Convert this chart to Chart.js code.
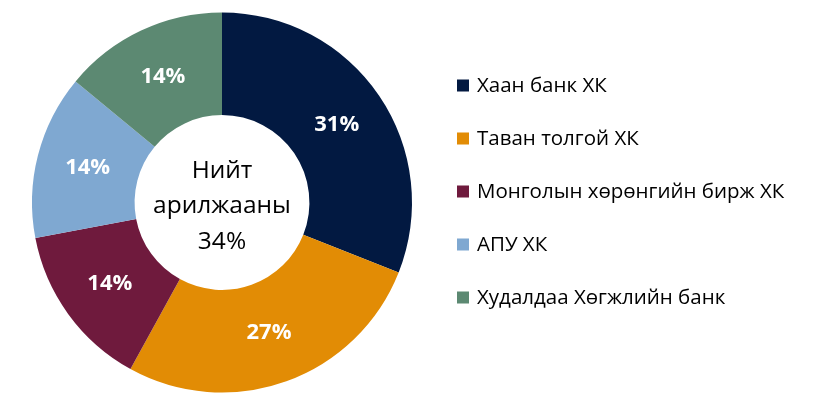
<!DOCTYPE html>
<html>
<head>
  <meta charset="UTF-8">
  <style>
    body { margin: 0; background: #fff; }
    .wrap { width: 825px; height: 405px; position: relative; }
  </style>
</head>
<body>
  <div class="wrap"><canvas id="myChart" width="825" height="405"></canvas></div>
  <script src="https://cdn.jsdelivr.net/npm/chart.js"></script>
  <script>
    // data
    var names = ["Хаан банк ХК", "Таван толгой ХК", "Монголын хөрөнгийн бирж ХК", "АПУ ХК", "Худалдаа Хөгжлийн банк"];
    var shares = [31, 27, 14, 14, 14];
    var colors = ["#021941", "#E28C05", "#6F1A3D", "#7FA8D1", "#5C8972"];
    var center_lines = ["Нийт", "арилжааны", "34%"];

    var FONT = "'Open Sans', 'Noto Sans', 'DejaVu Sans', sans-serif";

    // percent labels inside slices + centre text + legend
    var drawExtras = {
      id: 'drawExtras',
      afterDraw: function (chart) {
        var ctx = chart.ctx;
        var meta = chart.getDatasetMeta(0);
        ctx.save();
        ctx.fillStyle = '#fff';
        ctx.font = 'bold 22px ' + FONT;
        ctx.textAlign = 'center';
        ctx.textBaseline = 'middle';
        meta.data.forEach(function (arc, i) {
          var p = arc.tooltipPosition();
          ctx.fillText(shares[i] + '%', p.x, p.y);
        });

        // centre
        var cx = meta.data[0].x, cy = meta.data[0].y;
        ctx.fillStyle = '#000';
        ctx.font = '24.5px ' + FONT;
        ctx.textBaseline = 'alphabetic';
        for (var k = 0; k < center_lines.length; k++) {
          ctx.fillText(center_lines[k], cx, cy - 25 + k * 35.5);
        }

        // legend
        ctx.textAlign = 'left';
        ctx.font = '20.5px ' + FONT;
        for (var j = 0; j < names.length; j++) {
          var base = 91.5 + j * 53;
          ctx.fillStyle = colors[j];
          ctx.fillRect(457, base - 12, 12, 12);
          ctx.fillStyle = '#000';
          ctx.fillText(names[j], 477, base);
        }
        ctx.restore();
      }
    };

    const data = {
      labels: names,
      datasets: [{
        data: shares,
        backgroundColor: colors,
        borderWidth: 0
      }]
    };

    const config = {
      type: 'doughnut',
      data: data,
      options: {
        responsive: false,
        animation: false,
        cutout: '46%',
        layout: {
          padding: { left: 32, right: 413, top: 12, bottom: 12 }
        },
        plugins: {
          legend: { display: false },
          tooltip: { enabled: false }
        }
      },
      plugins: [drawExtras]
    };

    window.myChart = new Chart(document.getElementById('myChart'), config);
  </script>
</body>
</html>
